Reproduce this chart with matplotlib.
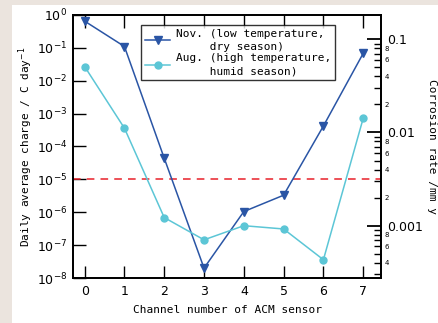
import numpy as np
import matplotlib
matplotlib.use('Agg')
import matplotlib.pyplot as plt
from matplotlib.patches import Rectangle
from matplotlib.ticker import LogLocator, FuncFormatter

# data
channels = [0, 1, 2, 3, 4, 5, 6, 7]
nov_charge = [0.65, 0.11, 4.4e-5, 2.0e-8, 1.05e-6, 3.3e-6, 4.2e-4, 0.068]
aug_charge = [0.027, 3.6e-4, 6.9e-7, 1.45e-7, 3.9e-7, 3.1e-7, 3.6e-8, 7.2e-4]
threshold = 1e-5
nov_label = 'Nov. (low temperature,\n     dry season)'
aug_label = 'Aug. (high temperature,\n     humid season)'

NOV_COLOR = '#2a55a5'
AUG_COLOR = '#5cc6d6'
MONO = 'DejaVu Sans Mono'

fig = plt.figure(figsize=(4.38, 3.23), dpi=100)
fig.patch.set_facecolor('#ebe4de')
fig.patches.append(Rectangle((12 / 438, 0), 1, 1 - 5 / 323, transform=fig.transFigure,
                             facecolor='white', edgecolor='none', zorder=-10))

ax = fig.add_axes([0.166, 0.1393, 0.705, 0.8143])
ax.set_yscale('log')
ax.set_ylim(1e-8, 1)
ax.set_xlim(-0.3, 7.46)

ax.plot(channels, nov_charge, '-v', color=NOV_COLOR, lw=1.1, ms=5.5, label=nov_label, zorder=3)
ax.plot(channels, aug_charge, '-o', color=AUG_COLOR, lw=1.1, ms=5, label=aug_label, zorder=3)
ax.axhline(threshold, color='#e8202a', lw=1.1, ls=(0, (5, 4)), zorder=2)

ax.set_xticks(channels)
ax.yaxis.set_major_locator(LogLocator(base=10, numticks=20))
ax.yaxis.set_minor_locator(plt.NullLocator())
ax.tick_params(axis='both', direction='in', length=9, width=1, labelsize=9)
ax.tick_params(axis='x', top=True, pad=5)
ax.tick_params(axis='y', pad=4)
for s in ax.spines.values():
    s.set_linewidth(1.3)

ax.set_xlabel('Channel number of ACM sensor', family=MONO, fontsize=8, labelpad=5)
ax.set_ylabel('Daily average charge / C day$^{-1}$', family=MONO, fontsize=8, labelpad=1)

leg = ax.legend(loc='upper left', bbox_to_anchor=(0.221, 0.962), borderaxespad=0,
                prop={'family': MONO, 'size': 8}, frameon=True, fancybox=False,
                edgecolor='black', handlelength=2.3, numpoints=1, labelspacing=0.15,
                borderpad=0.35, handletextpad=0.5)
leg.get_frame().set_linewidth(1.0)
for t in leg.get_texts():
    t.set_multialignment('left')
    t.set_linespacing(1.35)

# right axis: corrosion rate
ax2 = ax.twinx()
ax2.set_yscale('log')
ax2.set_ylim(0.000274, 0.1824)
ax2.yaxis.set_major_locator(LogLocator(base=10, numticks=20))
ax2.yaxis.set_minor_locator(LogLocator(base=10, subs=np.arange(2, 10), numticks=20))


def major_fmt(v, pos):
    return '{:g}'.format(v)


def minor_fmt(v, pos):
    d = int(round(v / 10 ** np.floor(np.log10(v) + 1e-9)))
    return str(d) if d in (2, 4, 6, 8) else ''


ax2.yaxis.set_major_formatter(FuncFormatter(major_fmt))
ax2.yaxis.set_minor_formatter(FuncFormatter(minor_fmt))
ax2.tick_params(axis='y', which='major', direction='in', length=10, width=1.3, labelsize=9, pad=4)
ax2.tick_params(axis='y', which='minor', direction='in', length=5, width=1, labelsize=5, pad=2)
for s in ax2.spines.values():
    s.set_linewidth(1.3)
ax2.set_ylabel('Corrosion rate /mm y', family=MONO, fontsize=8, rotation=-90, labelpad=10)

fig.savefig('out.png', dpi=100, facecolor=fig.get_facecolor())
